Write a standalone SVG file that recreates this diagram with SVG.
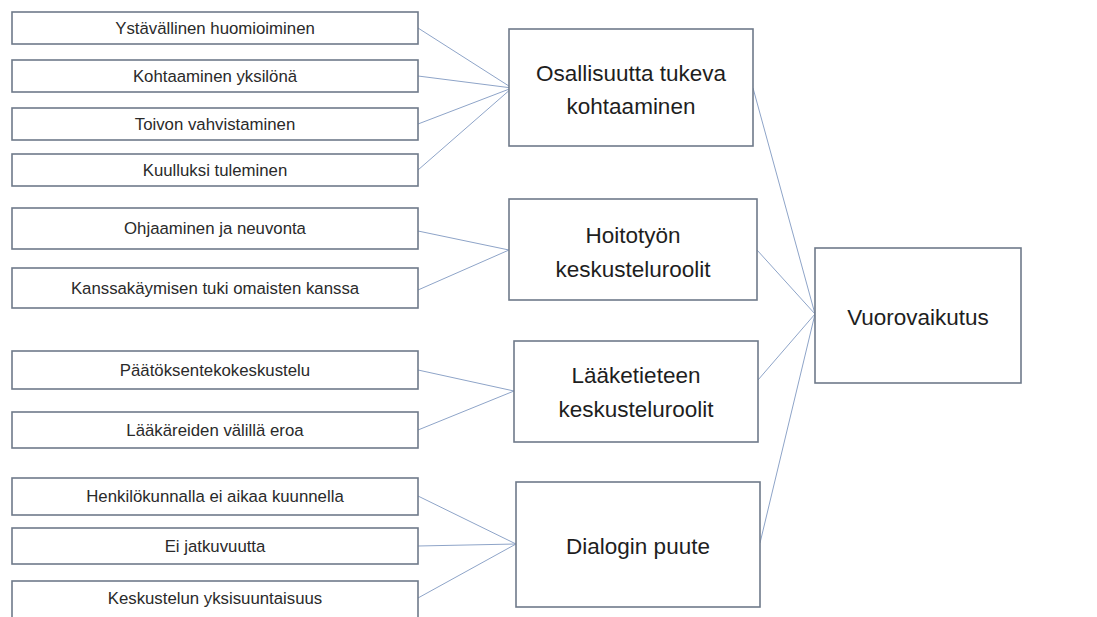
<svg xmlns="http://www.w3.org/2000/svg" width="1097" height="617" viewBox="0 0 1097 617">
  <style>
    .box { fill: #ffffff; stroke: #6f7a8a; stroke-width: 1.6; }
    .link { fill: none; stroke: #8ea4c8; stroke-width: 1; }
    .small { font-family: "Liberation Sans", Arial, sans-serif; font-size: 16.8px; fill: #2a2a2a; text-anchor: middle; }
    .big { font-family: "Liberation Sans", Arial, sans-serif; font-size: 22.5px; fill: #1e1e1e; text-anchor: middle; }
  </style>
  <rect width="1097" height="617" fill="#ffffff"/>

  <!-- connectors -->
  <g id="connectors">
    <line class="link" x1="418" y1="28" x2="512" y2="88"/>
    <line class="link" x1="418" y1="76" x2="512" y2="88"/>
    <line class="link" x1="418" y1="124" x2="512" y2="88"/>
    <line class="link" x1="418" y1="170" x2="512" y2="88"/>
    <line class="link" x1="418" y1="231" x2="509" y2="250"/>
    <line class="link" x1="418" y1="290" x2="509" y2="250"/>
    <line class="link" x1="418" y1="370" x2="514" y2="391"/>
    <line class="link" x1="418" y1="430" x2="514" y2="391"/>
    <line class="link" x1="418" y1="496" x2="516" y2="544"/>
    <line class="link" x1="418" y1="546" x2="516" y2="544"/>
    <line class="link" x1="418" y1="598" x2="516" y2="544"/>
    <line class="link" x1="753" y1="88" x2="815" y2="314"/>
    <line class="link" x1="757" y1="250" x2="815" y2="314"/>
    <line class="link" x1="758" y1="380" x2="815" y2="314"/>
    <line class="link" x1="760" y1="543" x2="815" y2="314"/>
  </g>

  <!-- leaf nodes -->
  <g id="n-ystavallinen"><rect class="box" x="12" y="12" width="406" height="32"/><text class="small" x="215" y="34">Ystävällinen huomioiminen</text></g>
  <g id="n-kohtaaminen"><rect class="box" x="12" y="60" width="406" height="32"/><text class="small" x="215" y="82">Kohtaaminen yksilönä</text></g>
  <g id="n-toivon"><rect class="box" x="12" y="108" width="406" height="32"/><text class="small" x="215" y="130">Toivon vahvistaminen</text></g>
  <g id="n-kuulluksi"><rect class="box" x="12" y="154" width="406" height="32"/><text class="small" x="215" y="176">Kuulluksi tuleminen</text></g>
  <g id="n-ohjaaminen"><rect class="box" x="12" y="208" width="406" height="41"/><text class="small" x="215" y="234">Ohjaaminen ja neuvonta</text></g>
  <g id="n-kanssakaymisen"><rect class="box" x="12" y="268" width="406" height="40"/><text class="small" x="215" y="294">Kanssakäymisen tuki omaisten kanssa</text></g>
  <g id="n-paatoksenteko"><rect class="box" x="12" y="351" width="406" height="38"/><text class="small" x="215" y="376">Päätöksentekokeskustelu</text></g>
  <g id="n-laakareiden"><rect class="box" x="12" y="412" width="406" height="36"/><text class="small" x="215" y="436">Lääkäreiden välillä eroa</text></g>
  <g id="n-henkilokunnalla"><rect class="box" x="12" y="478" width="406" height="37"/><text class="small" x="215" y="502">Henkilökunnalla ei aikaa kuunnella</text></g>
  <g id="n-jatkuvuutta"><rect class="box" x="12" y="528" width="406" height="36"/><text class="small" x="215" y="552">Ei jatkuvuutta</text></g>
  <g id="n-yksisuuntaisuus"><rect class="box" x="12" y="581" width="406" height="42"/><text class="small" x="215" y="604">Keskustelun yksisuuntaisuus</text></g>

  <!-- category nodes -->
  <g id="n-osallisuutta"><rect class="box" x="509" y="29" width="244" height="117"/><text class="big" x="631" y="81">Osallisuutta tukeva</text><text class="big" x="631" y="114">kohtaaminen</text></g>
  <g id="n-hoitotyon"><rect class="box" x="509" y="199" width="248" height="101"/><text class="big" x="633" y="243">Hoitotyön</text><text class="big" x="633" y="277">keskusteluroolit</text></g>
  <g id="n-laaketieteen"><rect class="box" x="514" y="341" width="244" height="101"/><text class="big" x="636" y="383">Lääketieteen</text><text class="big" x="636" y="417">keskusteluroolit</text></g>
  <g id="n-dialogin"><rect class="box" x="516" y="482" width="244" height="125"/><text class="big" x="638" y="554">Dialogin puute</text></g>

  <!-- root node -->
  <g id="n-vuorovaikutus"><rect class="box" x="815" y="248" width="206" height="135"/><text class="big" x="918" y="325">Vuorovaikutus</text></g>
</svg>
